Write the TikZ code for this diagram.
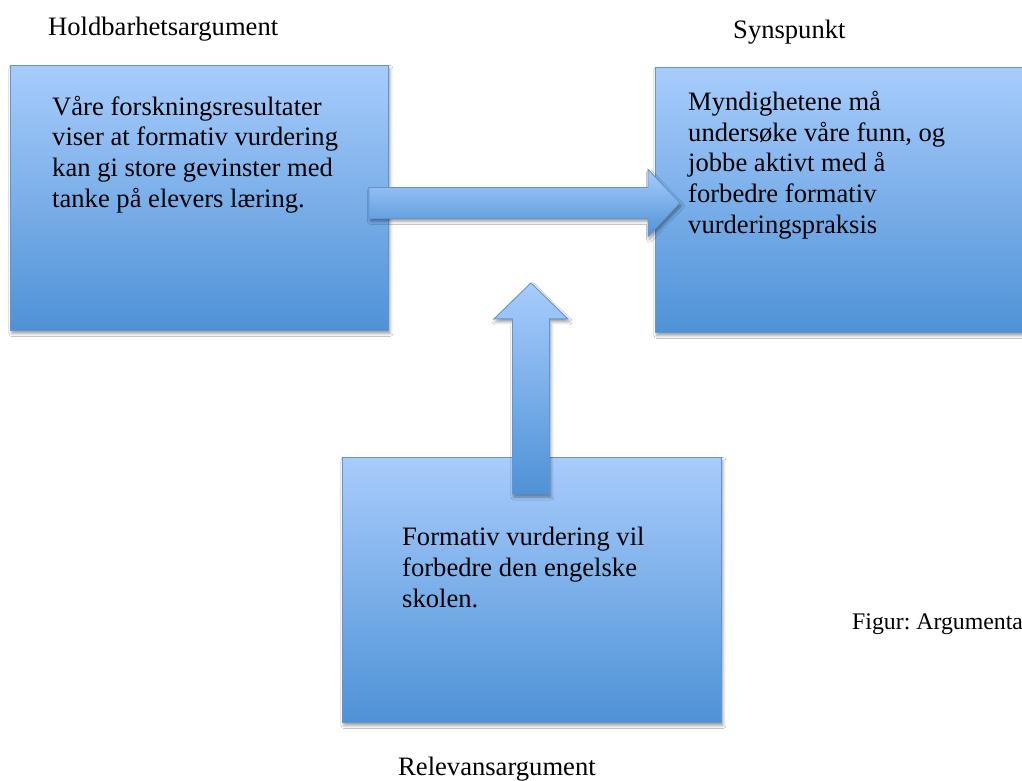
\documentclass[tikz,border=0pt]{standalone}
\usepackage{fontspec}
\setmainfont{Liberation Serif}
\usetikzlibrary{calc,shadows.blur}
\definecolor{boxtop}{RGB}{168,204,252}
\definecolor{boxbot}{RGB}{78,146,214}
\definecolor{boxline}{RGB}{98,148,208}
\frenchspacing

\begin{document}
\begin{tikzpicture}[x=1pt,y=-1pt,
  softshadow/.style={blur shadow={shadow xshift=1.5pt, shadow yshift=-3pt,
      shadow blur radius=3pt, shadow opacity=40}},
  panel/.style={rectangle, draw=boxline, line width=0.9pt,
      top color=boxtop, bottom color=boxbot, inner sep=0pt,
      anchor=north west, softshadow},
  blockarrow/.style={draw=boxline, line width=0.9pt, line join=miter,
      top color=boxtop, bottom color=boxbot, softshadow},
  body/.style={font=\fontsize{26.6}{30.6}\selectfont, align=left,
      inner sep=0pt, anchor=base west},
  caption/.style={font=\fontsize{26.6}{30.6}\selectfont,
      inner sep=0pt, anchor=base west}
]
% page
\fill[white] (0,0) rectangle (1022,780);
\useasboundingbox (0,0) rectangle (1022,780);

% the three argument boxes
\node[panel, minimum width=378, minimum height=265] (hold) at (10,65) {};
\node[panel, minimum width=378, minimum height=265] (syn)  at (655,67) {};
\node[panel, minimum width=379, minimum height=265] (rel)  at (342,457) {};

% horizontal block arrow: holdbarhet -> synspunkt
\coordinate (htail) at ($(hold.east)+(-20,5)$);
\coordinate (htip)  at ($(htail -| syn.west)+(25,0)$);
\path[blockarrow]
  ($(htail)+(0,-15.5)$) -- ($(htip)+(-32,-15.5)$) -- ($(htip)+(-32,-33.5)$)
  -- (htip) -- ($(htip)+(-32,33.5)$) -- ($(htip)+(-32,15.5)$)
  -- ($(htail)+(0,15.5)$) -- cycle;

% vertical block arrow: relevans -> up
\coordinate (vtail) at ($(rel.north)+(-1,37)$);
\coordinate (vtip)  at ($(vtail |- hold.south)+(0,-48)$);
\path[blockarrow]
  ($(vtail)+(-18.5,0)$) -- ($(vtip)+(-18.5,36)$) -- ($(vtip)+(-37,36)$)
  -- (vtip) -- ($(vtip)+(37,36)$) -- ($(vtip)+(18.5,36)$)
  -- ($(vtail)+(18.5,0)$) -- cycle;

% box texts (anchored on the baseline of the last line)
\node[body] (holdtext) at ($(hold.north west)+(42,142)$)
  {Våre forskningsresultater\\viser at formativ vurdering\\kan gi store gevinster med\\tanke på elevers læring.};
\node[body] (syntext) at ($(syn.north west)+(33,166)$)
  {Myndighetene må\\undersøke våre funn, og\\jobbe aktivt med å\\forbedre formativ\\vurderingspraksis};
\node[body] (reltext) at ($(rel.north west)+(60,150)$)
  {Formativ vurdering vil\\forbedre den engelske\\skolen.};

% headings
\node[caption] (holdlabel) at (48,35) {Holdbarhetsargument};
\node[caption] (synlabel)  at (733,38) {Synspunkt};
\node[caption] (rellabel)  at (398,775) {Relevansargument};
\node[caption, font=\fontsize{23.8}{27}\selectfont] (figlabel) at (852,629) {Figur: Argumenta};
\end{tikzpicture}
\end{document}
